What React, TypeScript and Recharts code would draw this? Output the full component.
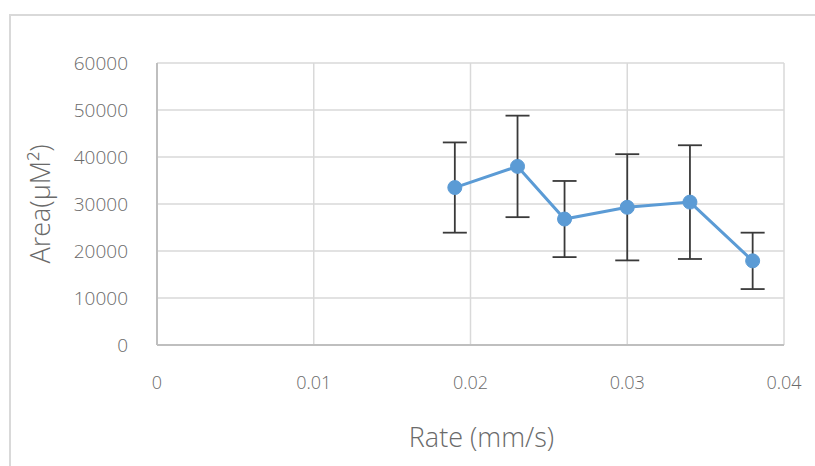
import React from "react";
import { LineChart, Line, XAxis, YAxis, CartesianGrid, ErrorBar, Label } from "recharts";

const rates = [0.019, 0.023, 0.026, 0.03, 0.034, 0.038];
const areas = [33500, 38000, 26800, 29300, 30400, 17900];
const errors = [9600, 10800, 8100, 11300, 12100, 6000];
const xTicks = [0, 0.01, 0.02, 0.03, 0.04];
const yTicks = [0, 10000, 20000, 30000, 40000, 50000, 60000];

const data = rates.map((r, i) => ({ rate: r, area: areas[i], err: errors[i] }));

const FONT = "'Open Sans', 'Noto Sans', sans-serif";
const TEXT = "#6a6a6a";

export default function App() {
  return (
    <div style={{ position: "absolute", left: 0, top: 0, width: 815, height: 466, background: "#fff", overflow: "hidden" }}>
      <div
        style={{
          position: "absolute",
          left: 9,
          top: 14,
          width: 815,
          height: 466,
          borderTop: "2px solid #d9d9d9",
          borderLeft: "2px solid #d9d9d9",
          boxSizing: "border-box",
        }}
      />
      <div style={{ position: "absolute", left: 0, top: 0 }}>
        <LineChart width={815} height={466} data={data} margin={{ top: 63, right: 31, bottom: 0, left: 0 }}>
          <CartesianGrid stroke="#d9d9d9" strokeWidth={1.5} />
          <XAxis
            type="number"
            dataKey="rate"
            domain={[0, 0.04]}
            ticks={xTicks}
            height={121}
            tickLine={false}
            tickSize={0}
            tickMargin={31}
            axisLine={{ stroke: "#bfbfbf", strokeWidth: 2 }}
            tick={{ fill: TEXT, fontSize: 18, fontFamily: FONT, fontWeight: 300 }}
            allowDataOverflow
          >
            <Label
              value="Rate (mm/s)"
              position="insideBottom"
              offset={19}
              dx={11}
              style={{ fill: TEXT, fontSize: 27, fontFamily: FONT, fontWeight: 300 }}
            />
          </XAxis>
          <YAxis
            type="number"
            domain={[0, 60000]}
            ticks={yTicks}
            width={157}
            tickLine={false}
            tickSize={0}
            tickMargin={29}
            axisLine={{ stroke: "#bfbfbf", strokeWidth: 2 }}
            tick={{ fill: TEXT, fontSize: 19, fontFamily: FONT, fontWeight: 300 }}
          >
            <Label
              value="Area(μM²)"
              angle={-90}
              position="insideLeft"
              offset={40}
              style={{ fill: TEXT, fontSize: 27, fontFamily: FONT, fontWeight: 300, textAnchor: "middle" }}
            />
          </YAxis>
          <Line
            type="linear"
            dataKey="area"
            stroke="#5b9bd5"
            strokeWidth={3}
            dot={{ r: 7, fill: "#5b9bd5", stroke: "#5b9bd5", strokeWidth: 1 }}
            activeDot={false}
            isAnimationActive={false}
          >
            <ErrorBar dataKey="err" direction="y" width={12} stroke="#3a3a3a" strokeWidth={1.8} isAnimationActive={false} />
          </Line>
        </LineChart>
      </div>
    </div>
  );
}
